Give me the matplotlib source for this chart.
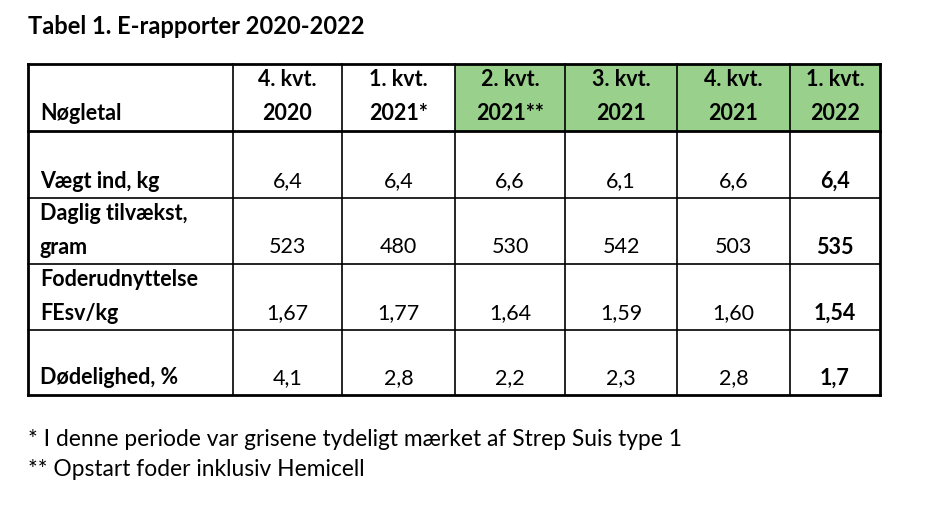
import matplotlib.pyplot as plt

FONT = 'Lato'

title = 'Tabel 1. E-rapporter 2020-2022'
col_top = ['4. kvt.', '1. kvt.', '2. kvt.', '3. kvt.', '4. kvt.', '1. kvt.']
col_bottom = ['2020', '2021*', '2021**', '2021', '2021', '2022']
green_cols = [2, 3, 4, 5]
row_labels = [['Vægt ind, kg'], ['Daglig tilvækst,', 'gram'],
              ['Foderudnyttelse', 'FEsv/kg'], ['Dødelighed, %']]
values = [
    ['6,4', '6,4', '6,6', '6,1', '6,6', '6,4'],
    ['523', '480', '530', '542', '503', '535'],
    ['1,67', '1,77', '1,64', '1,59', '1,60', '1,54'],
    ['4,1', '2,8', '2,2', '2,3', '2,8', '1,7'],
]
footnotes = ['* I denne periode var grisene tydeligt mærket af Strep Suis type 1',
             '** Opstart foder inklusiv Hemicell']

# layout in pixels
xs = [28, 233, 342, 455, 565, 677, 790, 880]
ys = [64, 131, 198, 264, 330, 395]

fig = plt.figure(figsize=(9.37, 5.07), dpi=100)
ax = fig.add_axes([0, 0, 1, 1])
ax.set_xlim(0, 937)
ax.set_ylim(507, 0)
ax.axis('off')

for c in green_cols:
    ax.fill_between([xs[c + 1], xs[c + 2]], ys[0], ys[1], color='#98d08c', lw=0)

for x in xs:
    lw = 2 if x in (xs[0], xs[-1]) else 1.2
    ax.plot([x, x], [ys[0], ys[-1]], color='black', lw=lw)
for i, y in enumerate(ys):
    lw = 2 if i in (0, 1, len(ys) - 1) else 1.2
    ax.plot([xs[0], xs[-1]], [y, y], color='black', lw=lw)

ax.text(28, 27, title, fontsize=17, fontweight='bold', family=FONT, va='center')

kw = dict(fontsize=15.5, family=FONT, va='center')
ax.text(40, 113, 'Nøgletal', fontweight='bold', **kw)
for c in range(len(col_top)):
    cx = (xs[c + 1] + xs[c + 2]) / 2
    ax.text(cx, 80, col_top[c], ha='center', fontweight='bold', **kw)
    ax.text(cx, 113, col_bottom[c], ha='center', fontweight='bold', **kw)

for r, lab in enumerate(row_labels):
    y_val = ys[r + 2] - 17
    for k, line in enumerate(lab):
        ax.text(40, y_val - 33 * (len(lab) - 1 - k), line, fontweight='bold', **kw)
    for c, v in enumerate(values[r]):
        cx = (xs[c + 1] + xs[c + 2]) / 2
        bold = 'bold' if c == len(values[r]) - 1 else 'normal'
        ax.text(cx, y_val, v, ha='center', fontweight=bold, **kw)

for i, f in enumerate(footnotes):
    ax.text(28, 440 + 30 * i, f, fontsize=16.4, family=FONT, va='center')

fig.savefig('out.png', dpi=100)
